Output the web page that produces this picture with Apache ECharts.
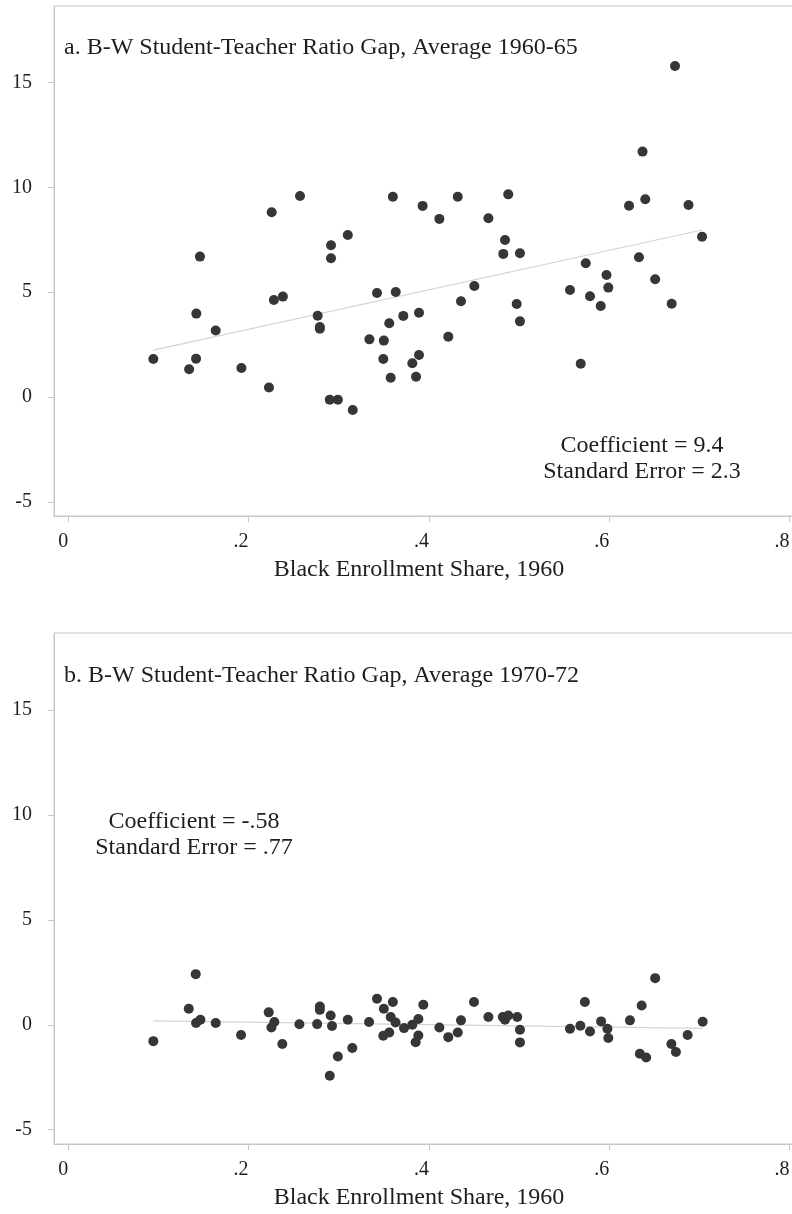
<!DOCTYPE html>
<html>
<head>
<meta charset="utf-8">
<script src="https://cdn.jsdelivr.net/npm/echarts@6/dist/echarts.min.js"></script>
<style>
html,body{margin:0;padding:0;background:#fff;}
#chart{width:792px;height:1214px;}
</style>
</head>
<body>
<div id="chart"></div>
<script>
// Panel a: B-W student-teacher ratio gap, average 1960-65
const shareA = [0.0943,0.134,0.1417,0.142,0.146,0.1635,0.192,0.2226,0.2256,0.228,0.238,0.257,0.2766,0.279,0.279,0.290,0.2914,0.2914,0.299,0.310,0.3155,0.334,0.3424,0.3494,0.350,0.356,0.3576,0.360,0.3632,0.3716,0.3816,0.3857,0.389,0.389,0.393,0.4116,0.4215,0.432,0.4356,0.4504,0.466,0.4825,0.4844,0.488,0.4974,0.501,0.501,0.5565,0.5684,0.574,0.5787,0.5906,0.597,0.599,0.622,0.633,0.637,0.640,0.651,0.6693,0.673,0.688,0.703];
const gapA = [1.81,1.32,1.83,3.98,6.70,3.17,1.38,0.45,8.82,4.63,4.79,9.59,3.88,3.34,3.26,-0.13,7.24,6.62,-0.13,7.73,-0.62,2.75,4.96,1.81,2.69,3.52,0.92,9.56,5.01,3.87,1.61,0.97,2.00,4.02,9.12,8.50,2.88,9.56,4.57,5.30,8.53,6.83,7.49,9.67,4.44,6.86,3.61,5.11,1.59,6.38,4.81,4.34,5.82,5.22,9.13,6.67,11.71,9.44,5.62,4.45,15.80,9.16,7.65];
const fitAx = [0.0943, 0.703];
const fitAy = [2.24, 7.97];

// Panel b: B-W student-teacher ratio gap, average 1970-72
const shareB = [0.0943,0.1336,0.1413,0.1417,0.1465,0.1635,0.1916,0.2223,0.2253,0.2285,0.2374,0.2563,0.276,0.279,0.279,0.290,0.291,0.2925,0.299,0.310,0.315,0.3336,0.3424,0.3494,0.350,0.356,0.3576,0.360,0.363,0.3724,0.3816,0.3853,0.3883,0.3883,0.3938,0.4116,0.4215,0.432,0.4356,0.450,0.466,0.482,0.4844,0.488,0.498,0.501,0.501,0.5565,0.568,0.573,0.5787,0.591,0.598,0.599,0.623,0.634,0.636,0.641,0.651,0.669,0.674,0.687,0.7037];
const gapB = [-0.78,0.76,2.41,0.08,0.24,0.08,-0.49,0.59,-0.13,0.13,-0.92,0.02,0.03,0.87,0.71,-2.43,0.44,-0.06,-1.51,0.24,-1.11,0.13,1.24,-0.52,0.76,-0.37,0.37,1.08,0.11,-0.16,0.00,-0.83,0.27,-0.51,0.95,-0.13,-0.59,-0.37,0.21,1.08,0.37,0.37,0.24,0.44,0.37,-0.24,-0.84,-0.19,-0.05,1.08,-0.32,0.16,-0.19,-0.63,0.21,-1.38,0.92,-1.56,2.22,-0.92,-1.30,-0.49,0.14];
const fitBx = [0.0943, 0.7037];
const fitBy = [0.18, -0.17];

const xTicks = [0, 0.2, 0.4, 0.6, 0.8];
const xTickLabels = ['0', '.2', '.4', '.6', '.8'];
const yTicks = [-5, 0, 5, 10, 15];
const yTickLabels = ['-5', '0', '5', '10', '15'];

const titles = ['a. B-W Student-Teacher Ratio Gap, Average 1960-65', 'b. B-W Student-Teacher Ratio Gap, Average 1970-72'];
const xTitle = 'Black Enrollment Share, 1960';
const notesA = ['Coefficient = 9.4', 'Standard Error = 2.3'];
const notesB = ['Coefficient = -.58', 'Standard Error = .77'];

const FONT = '"Liberation Serif", "Times New Roman", serif';
const frameColor = '#c6c6c6';
const dotColor = '#363636';
const textColor = '#1e1e1e';

function zip(a, b) { return a.map((v, i) => [v, b[i]]); }

function xAxisFor(idx) {
  return {
    type: 'value', gridIndex: idx, min: -0.0159, max: 0.805,
    axisLine: { show: true, onZero: false, lineStyle: { color: frameColor, width: 1 } },
    axisTick: { show: true, customValues: xTicks, length: 6, lineStyle: { color: frameColor } },
    axisLabel: {
      customValues: xTicks, margin: 16, align: 'right',
      formatter: v => { const i = xTicks.findIndex(t => Math.abs(t - v) < 1e-9); return i >= 0 ? xTickLabels[i] : ''; },
      color: textColor, fontFamily: FONT, fontSize: 20
    },
    splitLine: { show: false },
    name: xTitle, nameLocation: 'middle', nameGap: 42,
    nameTextStyle: { color: textColor, fontFamily: FONT, fontSize: 24, padding: [0, 10, 0, 0] }
  };
}
function yAxisFor(idx) {
  return {
    type: 'value', gridIndex: idx, min: -5.68, max: 18.66,
    axisLine: { show: true, onZero: false, lineStyle: { color: frameColor, width: 1 } },
    axisTick: { show: true, customValues: yTicks, length: 6, lineStyle: { color: frameColor } },
    axisLabel: {
      customValues: yTicks, margin: 22,
      formatter: v => { const i = yTicks.findIndex(t => Math.abs(t - v) < 1e-9); return i >= 0 ? yTickLabels[i] : ''; },
      color: textColor, fontFamily: FONT, fontSize: 20
    },
    splitLine: { show: false }
  };
}

const chart = echarts.init(document.getElementById('chart'), null, { renderer: 'canvas' });
chart.setOption({
  backgroundColor: '#fff',
  animation: false,
  title: [
    { text: titles[0], left: 59, top: 31, textStyle: { fontFamily: FONT, fontSize: 24, fontWeight: 'normal', color: textColor } },
    { text: titles[1], left: 59, top: 659, textStyle: { fontFamily: FONT, fontSize: 24, fontWeight: 'normal', color: textColor } }
  ],
  grid: [
    { left: 54, top: 6, width: 740, height: 510, outerBoundsMode: 'none', containLabel: false, show: true, borderColor: frameColor, borderWidth: 1, backgroundColor: '#fff' },
    { left: 54, top: 633, width: 740, height: 511, outerBoundsMode: 'none', containLabel: false, show: true, borderColor: frameColor, borderWidth: 1, backgroundColor: '#fff' }
  ],
  xAxis: [xAxisFor(0), xAxisFor(1)],
  yAxis: [yAxisFor(0), yAxisFor(1)],
  graphic: [
    { type: 'text', x: 642, y: 433, style: { text: notesA.join('\n'), fontFamily: FONT, fontSize: 24, fill: textColor, align: 'center', verticalAlign: 'top', lineHeight: 26 } },
    { type: 'text', x: 194, y: 809, style: { text: notesB.join('\n'), fontFamily: FONT, fontSize: 24, fill: textColor, align: 'center', verticalAlign: 'top', lineHeight: 26 } }
  ],
  series: [
    { type: 'line', xAxisIndex: 0, yAxisIndex: 0, data: zip(fitAx, fitAy), showSymbol: false, lineStyle: { color: '#d4d4d4', width: 1.2 }, z: 1 },
    { type: 'scatter', xAxisIndex: 0, yAxisIndex: 0, data: zip(shareA, gapA), symbolSize: 10, itemStyle: { color: dotColor, opacity: 1 }, z: 2 },
    { type: 'line', xAxisIndex: 1, yAxisIndex: 1, data: zip(fitBx, fitBy), showSymbol: false, lineStyle: { color: '#d4d4d4', width: 1.2 }, z: 1 },
    { type: 'scatter', xAxisIndex: 1, yAxisIndex: 1, data: zip(shareB, gapB), symbolSize: 10, itemStyle: { color: dotColor, opacity: 1 }, z: 2 }
  ]
});
</script>
</body>
</html>
